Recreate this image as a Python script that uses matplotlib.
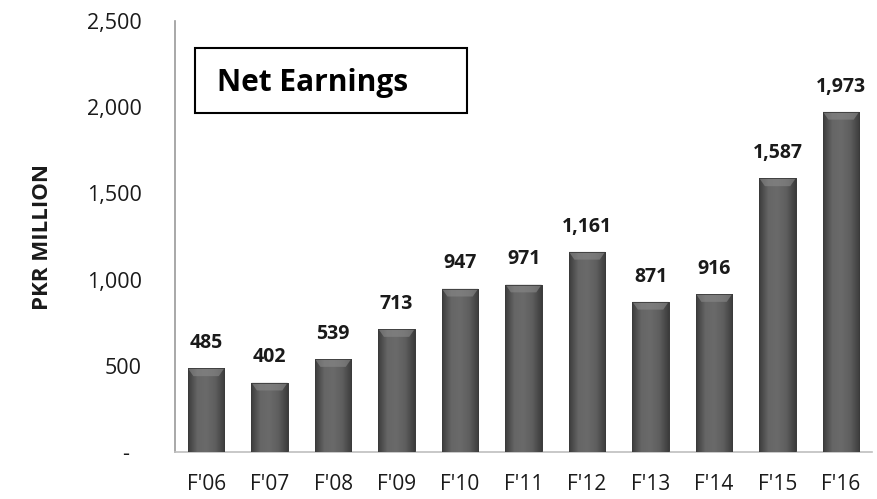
import matplotlib
matplotlib.use("Agg")
import matplotlib.pyplot as plt
import numpy as np
from matplotlib.colors import LinearSegmentedColormap
from matplotlib.patches import Rectangle, Polygon

# data
years = ["F'06", "F'07", "F'08", "F'09", "F'10", "F'11", "F'12", "F'13", "F'14", "F'15", "F'16"]
earnings = [485, 402, 539, 713, 947, 971, 1161, 871, 916, 1587, 1973]
yticks = [0, 500, 1000, 1500, 2000, 2500]
ytick_labels = ["-  ", "500", "1,000", "1,500", "2,000", "2,500"]

plt.rcParams['font.family'] = ['Open Sans', 'DejaVu Sans']

fig = plt.figure(figsize=(8.77, 4.99), dpi=100)
ax = fig.add_axes([0.1995, 0.0942, 0.795, 0.8637])

x = np.arange(len(years))
width = 0.57
bars = ax.bar(x, earnings, width=width, color='#555555', edgecolor='#3a3a3a', linewidth=0.6, zorder=2)

# horizontal shading on each bar (darker edges, lighter middle)
cmap = LinearSegmentedColormap.from_list('barshade', ['#3c3c3c', '#666666', '#6a6a6a', '#5e5e5e', '#3c3c3c'])
grad = np.linspace(0, 1, 64).reshape(1, -1)
bevel = 45
for b in bars:
    x0, w, h = b.get_x(), b.get_width(), b.get_height()
    im = ax.imshow(grad, cmap=cmap, aspect='auto', extent=[x0, x0 + w, 0, h], zorder=3)
    im.set_clip_path(b)
    # bevelled top
    top = Polygon([[x0, h], [x0 + w, h], [x0 + w * 0.85, h - bevel], [x0 + w * 0.15, h - bevel]],
                  closed=True, facecolor='#8a8a8a', edgecolor='none', alpha=0.6, zorder=4)
    ax.add_patch(top)
    ax.add_patch(Rectangle((x0, 0), w, h, fill=False, edgecolor='#3a3a3a', linewidth=0.6, zorder=5))

for xi, v in zip(x, earnings):
    ax.annotate(f"{v:,}", (xi, v), xytext=(0, 11), textcoords='offset points',
                ha='center', va='bottom', fontsize=14, fontweight='bold', color='#1a1a1a')

ax.set_xlim(-0.49, len(years) - 0.51)
ax.set_ylim(0, 2500)
ax.set_xticks(x)
ax.set_xticklabels(years, fontsize=15, color='#1a1a1a')
ax.set_yticks(yticks)
ax.set_yticklabels(ytick_labels, fontsize=15.5, color='#1a1a1a')
ax.tick_params(axis='x', length=0, pad=16)
ax.tick_params(axis='y', length=0, pad=24)

for s in ['top', 'right']:
    ax.spines[s].set_visible(False)
ax.spines['left'].set_color('#9a9a9a')
ax.spines['bottom'].set_color('#bfbfbf')
ax.spines['left'].set_linewidth(1.2)
ax.spines['bottom'].set_linewidth(1.2)

fig.text(0.048, 0.525, 'PKR MILLION', rotation=90, ha='center', va='center',
         fontsize=16, fontweight='bold', color='#1a1a1a')

# title box
fig.add_artist(Rectangle((195 / 877, 1 - 113 / 499), 272 / 877, 65 / 499,
                         transform=fig.transFigure, fill=False, edgecolor='black', linewidth=1.5))
fig.text(217 / 877, 1 - 83 / 499, 'Net Earnings', ha='left', va='center',
         fontsize=21.5, fontweight='bold', color='black')

fig.savefig('out.png', dpi=100)
